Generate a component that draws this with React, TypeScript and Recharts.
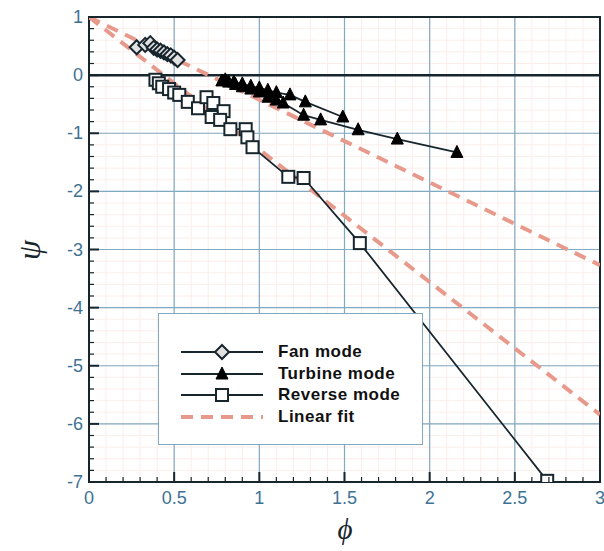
import React from "react";
import {
  ScatterChart,
  Scatter,
  XAxis,
  YAxis,
  CartesianGrid,
  ReferenceLine,
  ReferenceArea,
} from "recharts";

// values (phi, psi)
const fanMode = [
  { x: 0.28, y: 0.48 }, { x: 0.33, y: 0.52 }, { x: 0.36, y: 0.55 },
  { x: 0.38, y: 0.47 }, { x: 0.4, y: 0.44 }, { x: 0.42, y: 0.42 },
  { x: 0.44, y: 0.39 }, { x: 0.46, y: 0.36 }, { x: 0.48, y: 0.34 },
  { x: 0.5, y: 0.3 }, { x: 0.52, y: 0.26 },
];

const turbineMode = [
  { x: 0.78, y: -0.1 }, { x: 0.82, y: -0.12 }, { x: 0.86, y: -0.16 },
  { x: 0.9, y: -0.2 }, { x: 0.95, y: -0.24 }, { x: 1.0, y: -0.29 },
  { x: 1.05, y: -0.38 }, { x: 1.1, y: -0.43 }, { x: 1.14, y: -0.48 },
  { x: 1.26, y: -0.69 }, { x: 1.36, y: -0.77 }, { x: 1.58, y: -0.94 },
  { x: 1.81, y: -1.1 }, { x: 2.16, y: -1.33 },
];

const turbineModeB = [
  { x: 0.8, y: -0.08 }, { x: 0.85, y: -0.12 }, { x: 0.9, y: -0.15 },
  { x: 0.95, y: -0.19 }, { x: 1.0, y: -0.22 }, { x: 1.05, y: -0.26 },
  { x: 1.1, y: -0.3 }, { x: 1.18, y: -0.34 }, { x: 1.27, y: -0.46 },
  { x: 1.49, y: -0.72 },
];

const reverseMode = [
  { x: 0.39, y: -0.08 }, { x: 0.41, y: -0.14 }, { x: 0.43, y: -0.2 },
  { x: 0.47, y: -0.24 }, { x: 0.5, y: -0.3 }, { x: 0.53, y: -0.34 },
  { x: 0.58, y: -0.46 }, { x: 0.64, y: -0.57 }, { x: 0.69, y: -0.38 },
  { x: 0.73, y: -0.48 }, { x: 0.79, y: -0.62 }, { x: 0.72, y: -0.72 },
  { x: 0.77, y: -0.77 }, { x: 0.83, y: -0.93 }, { x: 0.92, y: -0.93 },
  { x: 0.93, y: -1.07 }, { x: 0.96, y: -1.24 }, { x: 1.17, y: -1.75 },
  { x: 1.26, y: -1.77 }, { x: 1.59, y: -2.89 }, { x: 2.69, y: -6.98 },
];

const fitTurbine = [{ x: 0, y: 1 }, { x: 3, y: -3.27 }];
const fitReverse = [{ x: 0, y: 1 }, { x: 3, y: -5.84 }];

const xMajor = [0, 0.5, 1, 1.5, 2, 2.5, 3];
const yMajor = [-7, -6, -5, -4, -3, -2, -1, 0, 1];
const xMinor = Array.from({ length: 31 }, (_, i) => i / 10);
const yMinor = Array.from({ length: 41 }, (_, i) => -7 + i / 5);

const INK = "#17252d";
const GRID = "#80a9c2";
const LABEL = "#3e7294";
const FIT = "#e79a8b";
const FONT = '"Liberation Sans", Arial, sans-serif';
const SERIF = '"Liberation Serif", "DejaVu Serif", serif';

const isMajor = (v: number, arr: number[]) => arr.some((a) => Math.abs(a - v) < 1e-6);

const XTick = ({ x, y, payload }: any) => {
  const major = isMajor(payload.value, xMajor);
  return (
    <g>
      <line x1={x} x2={x} y1={y} y2={y - (major ? 10 : 5)} stroke={INK} strokeWidth={major ? 2 : 1.2} />
      {major && (
        <text x={x} y={y + 22} textAnchor="middle" fill={LABEL} fontSize={18} fontFamily={FONT}>
          {String(payload.value)}
        </text>
      )}
    </g>
  );
};

const YTick = ({ x, y, payload }: any) => {
  const major = isMajor(payload.value, yMajor);
  return (
    <g>
      <line x1={x} x2={x + (major ? 10 : 5)} y1={y} y2={y} stroke={INK} strokeWidth={major ? 2 : 1.2} />
      {major && (
        <text x={x - 6} y={y + 6} textAnchor="end" fill={LABEL} fontSize={18} fontFamily={FONT}>
          {String(Math.round(payload.value))}
        </text>
      )}
    </g>
  );
};

const Diamond = ({ cx, cy }: any) => (
  <path d={`M${cx},${cy - 7}L${cx + 7},${cy}L${cx},${cy + 7}L${cx - 7},${cy}Z`} fill="#e2e2e2" stroke={INK} strokeWidth={2} />
);
const Triangle = ({ cx, cy }: any) => (
  <path d={`M${cx},${cy - 7}L${cx + 6},${cy + 5}L${cx - 6},${cy + 5}Z`} fill="#000" stroke="#000" strokeWidth={1} />
);
const Square = ({ cx, cy }: any) => (
  <rect x={cx - 6} y={cy - 6} width={12} height={12} fill="#fff" stroke={INK} strokeWidth={2} />
);
const Nothing = () => <g />;

const legendItems = [
  { label: "Fan mode", kind: "diamond" },
  { label: "Turbine mode", kind: "triangle" },
  { label: "Reverse mode", kind: "square" },
  { label: "Linear fit", kind: "fit" },
];

function LegendBox() {
  return (
    <div
      style={{
        position: "absolute",
        left: 158,
        top: 313,
        width: 265,
        height: 132,
        boxSizing: "border-box",
        border: `1.5px solid ${GRID}`,
        background: "#fff",
      }}
    >
      {legendItems.map((it, i) => (
        <div
          key={it.label}
          style={{ position: "absolute", left: 21, top: 27 + i * 21.7, height: 22, display: "flex", alignItems: "center" }}
        >
          <svg width={84} height={22}>
            {it.kind === "fit" ? (
              <line x1={1} x2={83} y1={11} y2={11} stroke={FIT} strokeWidth={4} strokeDasharray="12 8" />
            ) : (
              <line x1={1} x2={83} y1={11} y2={11} stroke={INK} strokeWidth={2} />
            )}
            {it.kind === "diamond" && <Diamond cx={42} cy={11} />}
            {it.kind === "triangle" && <Triangle cx={42} cy={11} />}
            {it.kind === "square" && <Square cx={42} cy={11} />}
          </svg>
          <span style={{ marginLeft: 14, font: `bold 17px ${FONT}`, letterSpacing: 0.5, color: "#111" }}>{it.label}</span>
        </div>
      ))}
    </div>
  );
}

export default function App() {
  return (
    <div style={{ position: "absolute", left: 0, top: 0, width: 604, height: 551, background: "#fff" }}>
      <ScatterChart width={604} height={551} margin={{ top: 17, right: 4, bottom: 39, left: 48 }}>
        <CartesianGrid stroke="#fbeeea" strokeWidth={1} horizontalValues={yMinor} verticalValues={xMinor} />
        <CartesianGrid stroke={GRID} strokeWidth={1.2} horizontalValues={yMajor} verticalValues={xMajor} />
        <XAxis
          type="number"
          dataKey="x"
          domain={[0, 3]}
          ticks={xMinor}
          interval={0}
          tick={<XTick />}
          tickLine={false}
          tickSize={0}
          tickMargin={0}
          height={30}
          axisLine={{ stroke: INK, strokeWidth: 2 }}
          allowDataOverflow
          label={{
            content: () => (
              <text x={345} y={539} textAnchor="middle" fontSize={29} fontStyle="italic" fontFamily={SERIF} fill={INK}>
                ϕ
              </text>
            ),
          }}
        />
        <YAxis
          type="number"
          dataKey="y"
          domain={[-7, 1]}
          ticks={yMinor}
          interval={0}
          tick={<YTick />}
          tickLine={false}
          tickSize={0}
          tickMargin={0}
          width={41}
          axisLine={{ stroke: INK, strokeWidth: 2 }}
          allowDataOverflow
          label={{
            content: () => (
              <g transform="translate(30 250) rotate(-90)">
                <text x={0} y={10} textAnchor="middle" fontSize={32} fontStyle="italic" fontFamily={SERIF} fill={INK}>
                  ψ
                </text>
              </g>
            ),
          }}
        />
        <ReferenceLine y={0} stroke={INK} strokeWidth={2.5} />
        <ReferenceArea x1={0} x2={3} y1={-7} y2={1} fill="none" stroke={INK} strokeWidth={2} />
        <Scatter data={fitTurbine} isAnimationActive={false} shape={<Nothing />} line={{ stroke: FIT, strokeWidth: 4, strokeDasharray: "12 8" }} />
        <Scatter data={fitReverse} isAnimationActive={false} shape={<Nothing />} line={{ stroke: FIT, strokeWidth: 4, strokeDasharray: "12 8" }} />
        <Scatter data={reverseMode} isAnimationActive={false} shape={<Square />} line={{ stroke: INK, strokeWidth: 1.8 }} />
        <Scatter data={turbineMode} isAnimationActive={false} shape={<Triangle />} line={{ stroke: INK, strokeWidth: 1.8 }} />
        <Scatter data={turbineModeB} isAnimationActive={false} shape={<Triangle />} line={{ stroke: INK, strokeWidth: 1.8 }} />
        <Scatter data={fanMode} isAnimationActive={false} shape={<Diamond />} line={{ stroke: INK, strokeWidth: 1.8 }} />
      </ScatterChart>
      <LegendBox />
    </div>
  );
}
